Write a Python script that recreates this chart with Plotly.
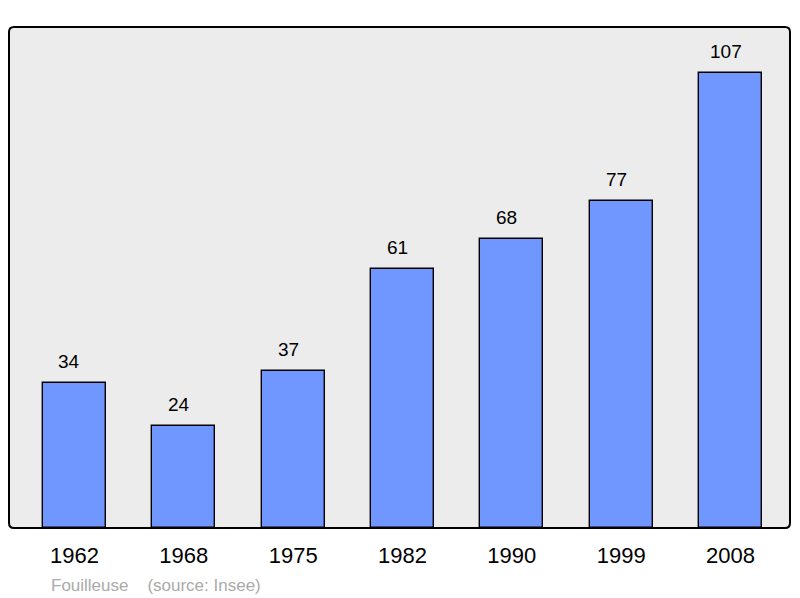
import plotly.graph_objects as go

years = ["1962", "1968", "1975", "1982", "1990", "1999", "2008"]
population = [34, 24, 37, 61, 68, 77, 107]
footer_text = "Fouilleuse    (source: Insee)"

W, H = 800, 598
L, R, T, B = 9, 10, 27, 70
pw, ph = W - L - R, H - T - B

fig = go.Figure()
fig.add_trace(go.Bar(
    x=years, y=population,
    width=0.577,
    marker=dict(color="#7096ff", line=dict(color="black", width=1.4)),
    hoverinfo="skip",
))

for i, v in enumerate(population):
    fig.add_annotation(x=i, y=v, xref="x", yref="y", text=str(v), showarrow=False,
                       yanchor="bottom", yshift=9, xshift=-5,
                       font=dict(size=19, color="black", family="Liberation Sans, Arial, sans-serif"))

fig.add_annotation(xref="paper", yref="paper", x=(49 - L) / pw, y=-(585 - 528) / ph,
                   text=footer_text, showarrow=False, xanchor="left", yanchor="middle",
                   font=dict(size=17, color="#aaaaaa", family="Liberation Sans, Arial, sans-serif"))

# rounded border around plot area (paper coords)
rx, ry = 5 / pw, 5 / ph
path = (f"M {rx},0 L {1-rx},0 Q 1,0 1,{ry} L 1,{1-ry} Q 1,1 {1-rx},1 "
        f"L {rx},1 Q 0,1 0,{1-ry} L 0,{ry} Q 0,0 {rx},0 Z")
fig.add_shape(type="path", xref="paper", yref="paper", path=path,
              line=dict(color="black", width=2), layer="above")

fig.update_layout(
    width=W, height=H,
    margin=dict(l=L, r=R, t=T, b=B, pad=0),
    paper_bgcolor="white", plot_bgcolor="#ececec",
    showlegend=False,
    font=dict(family="Liberation Sans, Arial, sans-serif", color="black"),
    bargap=0,
)
fig.update_xaxes(type="category", range=[-0.599, 6.544], showgrid=False, zeroline=False,
                 showline=False, ticks="", tickfont=dict(size=22, color="black"),
                 ticklabelstandoff=12)
fig.update_yaxes(range=[0, 117.8], showgrid=False, zeroline=False, showline=False,
                 showticklabels=False, ticks="")

fig.write_html("out.html", config={"displayModeBar": False},
               post_script="document.body.style.margin='0';document.body.style.padding='0';")
